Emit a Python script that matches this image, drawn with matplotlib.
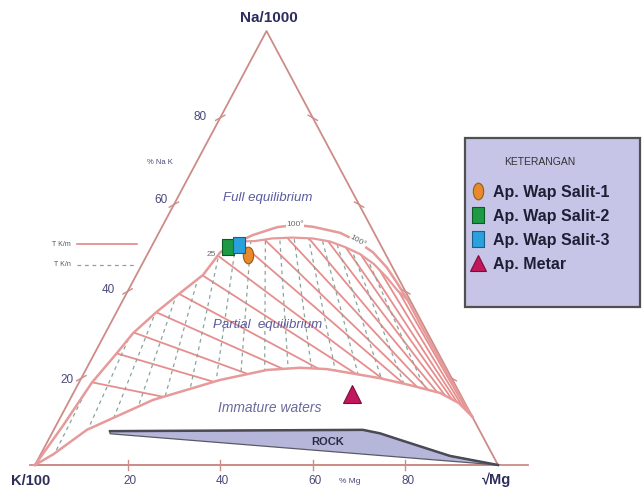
import matplotlib
matplotlib.use("Agg")
import matplotlib.pyplot as plt
from matplotlib.patches import Polygon, Rectangle
from matplotlib.lines import Line2D
from matplotlib.path import Path
from matplotlib.transforms import Affine2D
from matplotlib.font_manager import FontProperties
import numpy as np

plt.rcParams['font.family'] = ['Liberation Sans', 'DejaVu Sans']

# ---------------- data (ternary %: Na, Mg; K = 100 - Na - Mg) ----------------
# full equilibrium curve (outer arc), K vertex -> Na-Mg edge
full_eq_na = [0, 9, 19, 25.8, 30.4, 35.3, 39.6, 43.8, 49, 51.5, 53, 54.8, 55.3, 54.9,
              53.5, 51.6, 49, 45.5, 41.8, 38, 32.5, 26.5, 20.3, 14.8, 11.2]
full_eq_mg = [0, 1.5, 2.8, 4.8, 6.0, 8.65, 11.5, 14.4, 15.5, 18.25, 20.6, 24.9, 28.55, 32.55,
              39.15, 43.7, 48.5, 53.25, 57.4, 61.5, 66.95, 73.05, 79.25, 84.9, 88.8]
# inner arc (lower branch of the full-equilibrium band)
inner_na = [51.5, 51.6, 52.2, 52.4, 52.2, 51.5, 50.2, 48.6, 46.3, 43.2, 40.2, 38]
inner_mg = [18.25, 21.7, 25.1, 29.3, 33.9, 37.95, 41.9, 45.9, 50.05, 54.4, 58.2, 61.5]
# immature waters boundary
immature_na = [0, 2.5, 8.1, 15, 19.6, 21.9, 22.4, 22.1, 21.2, 20, 18.4, 16.6, 14.3, 11.2]
immature_mg = [0, 2.75, 7.15, 18, 30.2, 39.15, 46, 51.95, 57.4, 64.5, 71.8, 79.2, 84.35, 88.8]
# T K/n isolines (from Mg vertex), given by Na/(Na+K) % where they reach the Na-K edge
tkn_edge_na = [19.6, 27, 32.5, 38.5, 44.5, 51, 57, 63, 68, 73, 78, 82.5, 86.5, 90, 93.5, 96.5]
# T K/m isolines (from Na vertex), given by Mg/(Mg+K) % where they reach the K-Mg edge
tkm_edge_mg = [3, 8, 13, 18, 24, 30, 36.5, 43, 49.5, 56, 62.5, 69, 75, 81, 86.5, 91.5]
# rock field
rock_na = [7.8, 8.1, 7.3, 5.8, 2.1, 0, 7.2]
rock_mg = [12.3, 66.75, 70.85, 75.9, 88.55, 100, 12.6]
# samples
sample_names = ["Ap. Wap Salit-1", "Ap. Wap Salit-2", "Ap. Wap Salit-3", "Ap. Metar"]
sample_na = [48.4, 50.2, 50.7, 16.4]
sample_mg = [21.8, 16.6, 18.75, 60.3]
sample_colors = ['#E8892B', '#1E9A44', '#2AA0DC', '#C2185B']
sample_edges = ['#9A5A10', '#0E5A25', '#1A5E8A', '#7A0E3A']
tick_vals = [20, 40, 60, 80]


def tern(na, mg):
    na = np.asarray(na, float)
    mg = np.asarray(mg, float)
    return mg + na / 2.0, na


# ---------------- figure ----------------
W, H = 643, 495
fig = plt.figure(figsize=(W / 100, H / 100), dpi=100)
ax = fig.add_axes([0, 0, 1, 1])
sx = (498 - 35) / 100.0
sy = (465 - 31) / 100.0
ax.set_xlim(-35 / sx, (W - 35) / sx)
ax.set_ylim(-(H - 465) / sy, 465 / sy)
ax.axis('off')

edge_col = '#CC8C88'
curve_col = '#E69A9A'
solid_col = '#E27A7A'
dash_col = '#88A59C'
navy = '#2E2E5E'
region_col = '#5A5A9E'

# triangle frame
ax.plot([0, 100, 50, 0], [0, 0, 100, 0], color=edge_col, lw=1.3, zorder=2)
ax.plot([-1, 106.5], [0, 0], color=edge_col, lw=1.3, zorder=2)
for t in tick_vals:
    ax.plot([t, t], [-1.2, 1.2], color=edge_col, lw=1.0)
    lx, ly = tern(t, 0)
    ax.plot([lx - 1.0, lx + 1.0], [ly - 0.6, ly + 0.6], color=edge_col, lw=1.0)
    rx, ry = tern(t, 100 - t)
    ax.plot([rx - 1.0, rx + 1.0], [ry + 0.6, ry - 0.6], color=edge_col, lw=1.0)

# region between curves for clipping
fx, fy = tern(full_eq_na, full_eq_mg)
ix, iy = tern(inner_na, inner_mg)
mx, my = tern(immature_na, immature_mg)
branch = full_eq_na.index(51.5)
rejoin = full_eq_na.index(38)
up_x = list(fx[:branch]) + list(ix) + list(fx[rejoin + 1:])
up_y = list(fy[:branch]) + list(iy) + list(fy[rejoin + 1:])
reg = Polygon(np.column_stack([up_x + list(mx[::-1]), up_y + list(my[::-1])]),
              closed=True, transform=ax.transData)

for e in tkn_edge_na:
    ex, ey = tern(e, 0)
    ln, = ax.plot([100, ex], [0, ey], color=solid_col, lw=1.3, alpha=0.85, zorder=3)
    ln.set_clip_path(reg)
for b in tkm_edge_mg:
    bx, by = tern(0, b)
    ln, = ax.plot([50, bx], [100, by], color=dash_col, lw=0.9, ls=(0, (3, 3)), zorder=3)
    ln.set_clip_path(reg)

# curves
ax.plot(fx, fy, color=curve_col, lw=1.8, zorder=4)
ax.plot(ix, iy, color=curve_col, lw=1.6, zorder=4)
ax.plot(mx, my, color=curve_col, lw=1.8, zorder=4)

# rock field
rx, ry = tern(rock_na, rock_mg)
ax.add_patch(Polygon(np.column_stack([rx, ry]), closed=True, facecolor='#B6B5DA',
                     edgecolor='#5A5A66', lw=0.9, zorder=3))
ax.plot(rx[:6], ry[:6], color='#4A4A55', lw=1.8, zorder=4)
ax.text(63.1, 5.2, 'ROCK', fontsize=8, fontweight='bold', color='#2A2A44',
        ha='center', va='center', zorder=5)

# text labels
ax.text(50.5, 103.0, 'Na/1000', fontsize=11, fontweight='bold', color=navy, ha='center', va='center')
ax.text(-1.0, -3.7, 'K/100', fontsize=10.5, fontweight='bold', color=navy, ha='center', va='center')
ax.text(99.8, -3.5, '√Mg', fontsize=10.5, fontweight='bold', color=navy, ha='center', va='center')
left_lab_pos = [(6.9, 19.6), (15.8, 40.3), (27.2, 61.0), (35.6, 80.2)]
for t, (x, y) in zip(tick_vals, left_lab_pos):
    ax.text(x, y, str(t), fontsize=8.5, color='#4A4A7A', ha='center', va='center')
for t in tick_vals:
    ax.text(t + 0.5, -3.7, str(t), fontsize=8.5, color='#4A4A7A', ha='center', va='center')
ax.text(68.0, -3.7, '% Mg', fontsize=6, color='#4A4A7A', ha='center', va='center')
ax.text(27.0, 69.6, '% Na K', fontsize=5.5, color='#4A4A7A', ha='center', va='center')

ax.text(50.3, 61.5, 'Full equilibrium', fontsize=9.5, style='italic', color=region_col,
        ha='center', va='center')
ax.text(50.3, 32.3, 'Partial  equilibrium', fontsize=9.5, style='italic', color=region_col,
        ha='center', va='center', zorder=6)
ax.text(50.8, 13.1, 'Immature waters', fontsize=10, style='italic', color='#6A6A9A',
        ha='center', va='center')
ax.text(56.2, 55.4, '100°', fontsize=6, color='#6A6A6A', ha='center', va='center', zorder=6,
        bbox=dict(facecolor='white', edgecolor='none', pad=0.3))
ax.text(69.8, 51.6, '100°', fontsize=6, color='#6A6A6A', ha='center', va='center', zorder=6,
        rotation=-30, bbox=dict(facecolor='white', edgecolor='none', pad=0.2))
ax.text(38.0, 48.6, '25', fontsize=6, color='#6A6A6A', ha='center', va='center', zorder=5)

# left mini-legend for isolines
ax.plot([9.1, 22.0], [50.9, 50.9], color=solid_col, lw=1.1)
ax.plot([9.1, 22.0], [46.1, 46.1], color=dash_col, lw=0.9, ls=(0, (3, 3)))
ax.text(7.8, 50.9, 'T K/m', fontsize=5, color='#555555', ha='right', va='center')
ax.text(7.8, 46.1, 'T K/n', fontsize=5, color='#555555', ha='right', va='center')

# samples
ellipse = Path.unit_circle().transformed(Affine2D().scale(0.62, 1.0))
tall_sq = [(-0.75, -1), (0.75, -1), (0.75, 1), (-0.75, 1), (-0.75, -1)]
markers = [ellipse, tall_sq, tall_sq, '^']
sizes = [12, 11.5, 11.5, 13]
leg_sizes = [12, 11, 11, 12]
sxp, syp = tern(sample_na, sample_mg)
handles = []
for i in range(4):
    ax.plot(sxp[i], syp[i], ls='none', marker=markers[i], ms=sizes[i],
            mfc=sample_colors[i], mec=sample_edges[i], mew=0.8, zorder=7 + i)
    handles.append(Line2D([], [], ls='none', marker=markers[i], ms=leg_sizes[i],
                          mfc=sample_colors[i], mec=sample_edges[i], mew=0.8))

# legend box
fig.patches.append(Rectangle((465 / W, 1 - 307 / H), 175 / W, 169 / H, transform=fig.transFigure,
                             facecolor='#C7C5E7', edgecolor='#505050', lw=1.6, zorder=0))
leg = fig.legend(handles, sample_names, loc='upper left', bbox_to_anchor=(471 / W, 1 - 157 / H),
                 frameon=False, title='KETERANGAN',
                 prop=FontProperties(family='Liberation Sans', weight='bold', size=11.5),
                 title_fontproperties=FontProperties(family='Liberation Sans', size=7.5),
                 handlelength=0.9, handletextpad=0.45, labelspacing=0.56,
                 borderpad=0, borderaxespad=0)
leg._legend_box.sep = 13
leg.get_title().set_color('#333333')
for t in leg.get_texts():
    t.set_color('#1E1E35')

fig.savefig('out.png', dpi=100)
